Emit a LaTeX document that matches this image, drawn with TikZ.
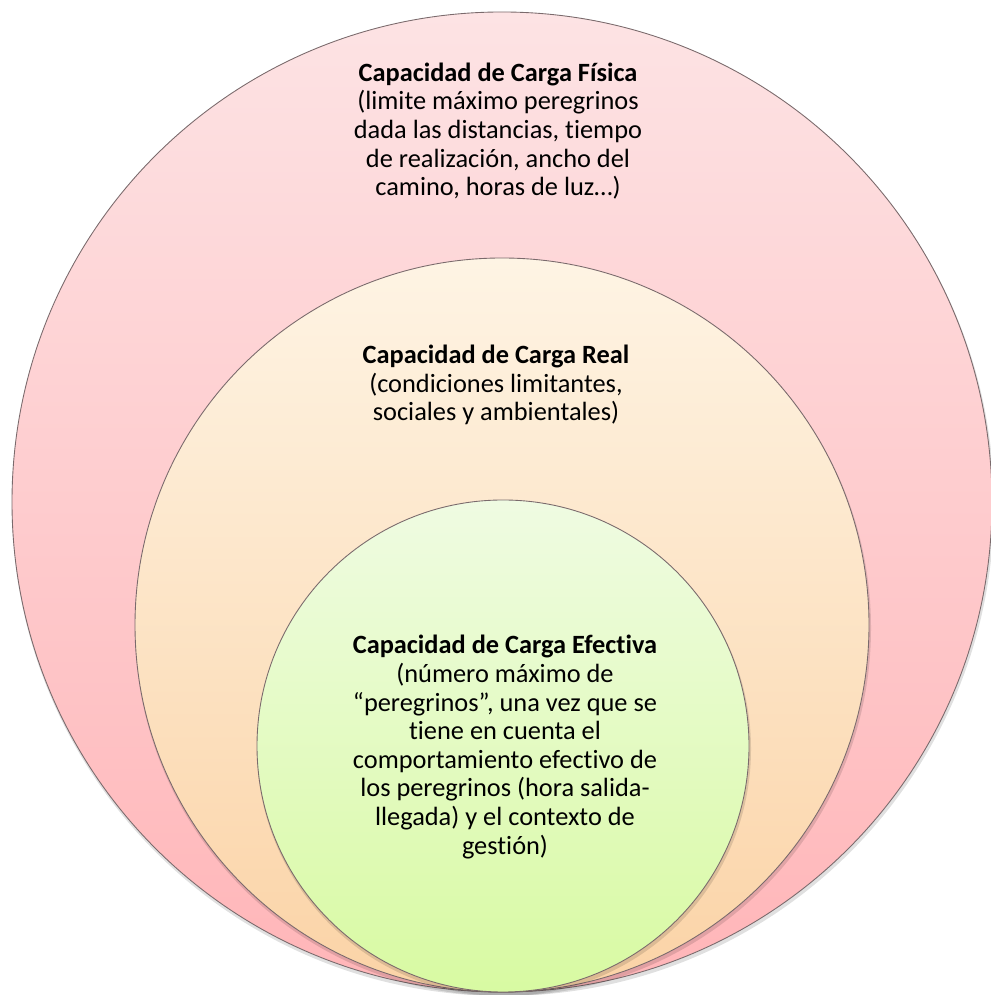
\documentclass[tikz,border=0pt]{standalone}
\usepackage{fontspec}
\setmainfont{Carlito}[Ligatures=NoCommon]
\usepackage{tikz}
\usetikzlibrary{calc}

\definecolor{fisTop}{HTML}{FDE3E4}
\definecolor{fisBot}{HTML}{FFB5B8}
\definecolor{realTop}{HTML}{FEF4E4}
\definecolor{realBot}{HTML}{FBD3A6}
\definecolor{efeTop}{HTML}{EFFBE2}
\definecolor{efeBot}{HTML}{D8FAA2}
\definecolor{borde}{HTML}{7A6A6C}

\tikzset{
  capa/.style={draw=borde,line width=0.5pt},
  texto/.style={align=center,font=\fontsize{15}{16.3}\selectfont,inner sep=0pt}
}

\begin{document}
\begin{tikzpicture}
\useasboundingbox (0,0) rectangle (19.8,19.9);

\fill[black,opacity=0.12] (10.06,9.80) circle(9.82);
\shade[top color=fisTop,bottom color=fisBot,capa] (10.04,9.86) circle(9.8);

\fill[black,opacity=0.12] (10.06,7.34) circle(7.36);
\shade[top color=realTop,bottom color=realBot,capa] (10.04,7.40) circle(7.34);

\fill[black,opacity=0.12] (10.08,4.92) circle(4.94);
\shade[top color=efeTop,bottom color=efeBot,capa] (10.06,4.98) circle(4.92);

\node[texto] (fisica) at (9.96,17.28) {\textbf{Capacidad de Carga Física}\\(limite máximo peregrinos\\dada las distancias, tiempo\\de realización, ancho del\\camino, horas de luz…)};

\node[texto] (real) at (9.92,12.2) {\textbf{Capacidad de Carga Real}\\(condiciones limitantes,\\sociales y ambientales)};

\node[texto] (efectiva) at (10.1,4.96) {\textbf{Capacidad de Carga Efectiva}\\(número máximo de\\“peregrinos”, una vez que se\\tiene en cuenta el\\comportamiento efectivo de\\los peregrinos (hora salida-\\llegada) y el contexto de\\gestión)};

\end{tikzpicture}
\end{document}
